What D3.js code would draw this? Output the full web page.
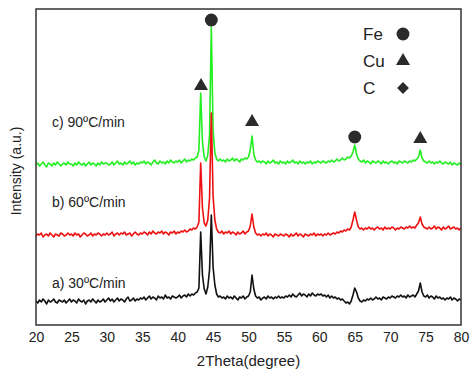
<!DOCTYPE html>
<meta charset="utf-8">
<style>
body { margin: 0; background: #fff; }
text { font-family: Arial, "Liberation Sans", sans-serif; fill: #222; }
.frame { fill: none; stroke: #333; stroke-width: 1.5; }
.trace { fill: none; stroke-width: 1.6; stroke-linejoin: round; }
</style>
<body>
<script src="https://cdn.jsdelivr.net/npm/d3@7"></script>
<script>

// 2theta grid, 20..80 in 0.25 degree steps
var theta = d3.range(0, 241).map(function(i) { return 20 + i * 0.25; });

// intensities (a.u.), one value per grid point
var rate30 = [
  24,22,25,23,26,24,21,25,23,24,26,23,22,25,24,23,25,22,24,26,
  23,25,24,22,26,24,23,25,21,24,25,23,26,24,22,25,23,24,26,23,
  25,27,24,26,23,25,27,24,26,25,23,26,28,24,25,27,24,26,25,27,
  26,28,25,27,29,26,28,27,25,29,27,28,26,30,27,28,26,29,28,27,
  28,30,27,29,30,28,31,29,31,30,32,33,37,93,50,36,31,38,55,110,
  58,40,31,28,29,27,28,26,29,27,28,26,29,27,25,28,27,29,26,28,
  29,33,50,36,29,27,28,25,27,28,26,29,27,28,26,28,27,29,27,28,
  27,29,28,30,28,31,29,28,30,32,29,31,30,28,31,29,32,30,29,31,
  30,31,29,30,28,30,27,29,27,28,26,27,25,26,24,22,23,21,24,30,
  37,33,27,24,23,25,24,26,25,27,25,26,28,26,27,25,28,27,26,28,
  27,29,28,27,29,28,30,28,29,27,30,28,29,30,28,31,34,42,33,29,
  28,30,27,29,28,26,29,27,28,26,27,25,27,26,28,25,27,26,24,26,
  25
];
var rate60 = [
  22,24,23,25,21,23,24,22,25,23,21,24,23,22,25,24,22,23,25,23,
  24,22,25,23,24,21,23,25,24,22,23,25,22,24,23,25,24,22,24,23,
  25,23,24,26,22,24,25,23,25,24,26,23,24,25,22,24,26,24,23,25,
  24,26,25,23,26,24,27,25,24,26,25,27,24,26,25,23,26,25,27,24,
  26,25,27,26,28,26,27,29,28,30,29,31,36,95,50,35,32,38,60,145,
  62,38,29,26,25,27,24,26,25,27,24,26,25,23,26,24,25,27,24,26,
  27,32,44,31,25,23,24,22,24,23,25,22,24,23,21,24,23,22,24,23,
  22,24,23,21,24,22,23,25,22,24,23,21,24,23,22,24,23,25,22,24,
  23,24,22,24,23,25,23,24,25,24,26,25,27,26,28,27,29,28,31,38,
  46,38,31,29,30,28,30,29,31,29,30,28,30,31,29,30,28,31,29,30,
  29,31,30,28,30,29,31,30,29,31,30,32,30,31,30,33,35,41,34,31,
  30,29,31,29,30,32,29,31,30,28,31,29,30,32,29,30,31,29,30,28,
  30
];
var rate90 = [
  25,27,24,26,28,25,23,27,26,24,27,25,28,26,24,26,27,25,28,26,
  26,24,27,25,28,26,25,27,24,26,28,25,27,26,24,27,25,28,26,27,
  27,25,26,28,25,27,29,26,27,25,28,26,27,29,26,28,25,27,26,28,
  27,29,26,28,27,25,28,30,27,26,29,27,28,26,29,27,30,28,27,29,
  28,30,27,29,31,28,30,29,31,30,32,33,40,97,48,33,29,35,55,163,
  60,37,31,29,31,29,30,28,31,29,30,32,29,31,30,28,31,30,32,31,
  33,40,54,36,30,28,29,27,29,28,26,29,27,28,30,27,28,26,29,27,
  28,26,29,27,28,30,27,28,26,29,27,28,26,28,27,29,26,28,27,29,
  28,27,29,28,27,29,28,30,28,29,31,29,30,32,30,31,33,32,34,38,
  45,36,31,29,28,30,27,29,28,26,29,28,27,29,28,26,29,27,28,26,
  28,29,27,28,26,29,28,27,29,28,27,29,28,30,29,31,33,40,32,29,
  28,27,29,27,28,26,28,27,29,27,26,28,27,26,28,25,27,26,25,27,
  25
];

var seriesNames = ["a) 30\u00baC/min", "b) 60\u00baC/min", "c) 90\u00baC/min"];
var seriesColors = ["#111111", "#ee1111", "#22ee22"];
var offsets = [0, 67, 135];

// phase markers above the peaks of the top trace
var markTheta = [43.3, 44.75, 50.5, 65.0, 74.25];
var markPhase = ["Cu", "Fe", "Cu", "Fe", "Cu"];
var markLevel = [239, 305, 203, 188, 186];

var legendPhases = ["Fe", "Cu", "C"];

var xTicks = d3.range(20, 81, 5);

var W = 473, H = 374;
var margin = {top: 9, right: 12, bottom: 49, left: 36},
    width = W - margin.left - margin.right,
    height = H - margin.top - margin.bottom;

var x = d3.scaleLinear().domain([20, 80]).range([0, width]);
var y = d3.scaleLinear().domain([0, 316]).range([height, 0]);

var svg = d3.select("body").append("svg")
    .attr("width", W)
    .attr("height", H)
  .append("g")
    .attr("transform", "translate(" + margin.left + "," + margin.top + ")");

var data = [rate30, rate60, rate90];

// draw top trace first so the lower ones sit on top of it
[2, 1, 0].forEach(function(k) {
  var line = d3.line()
      .x(function(d, i) { return x(theta[i]); })
      .y(function(d) { return y(d + offsets[k]); });
  svg.append("path")
      .datum(data[k])
      .attr("class", "trace")
      .attr("stroke", seriesColors[k])
      .attr("d", line);
});

// series labels
var labelY = [279, 198, 118];
svg.selectAll(".lab")
    .data(seriesNames)
  .enter().append("text")
    .attr("class", "lab")
    .attr("x", 16)
    .attr("y", function(d, i) { return labelY[i]; })
    .style("font-size", "14px")
    .text(function(d) { return d; });

// C is drawn as a square turned 45 degrees
var symFor = {Fe: d3.symbolCircle, Cu: d3.symbolTriangle, C: d3.symbolSquare};
var sizeFor = {Fe: 130, Cu: 85, C: 70};
var rotFor = {Fe: 0, Cu: 0, C: 45};

function symPath(p) {
  return d3.symbol().type(symFor[p]).size(sizeFor[p])();
}

svg.selectAll(".mark")
    .data(markTheta)
  .enter().append("path")
    .attr("class", "mark")
    .attr("fill", "#2b2b2b")
    .attr("d", function(d, i) { return symPath(markPhase[i]); })
    .attr("transform", function(d, i) {
      return "translate(" + x(d) + "," + y(markLevel[i]) + ") rotate(" + rotFor[markPhase[i]] + ")"; });

// legend
var leg = svg.append("g").attr("transform", "translate(327,0)");
legendPhases.forEach(function(p, i) {
  leg.append("text")
      .attr("x", 0)
      .attr("y", 31 + i * 27)
      .style("font-size", "17px")
      .text(p);
  leg.append("path")
      .attr("fill", "#2b2b2b")
      .attr("d", symPath(p))
      .attr("transform", "translate(40," + (25 + i * 27) + ") rotate(" + rotFor[p] + ")");
});

// frame
svg.append("rect")
    .attr("class", "frame")
    .attr("width", width)
    .attr("height", height);

var xAxis = svg.append("g")
    .attr("transform", "translate(0," + height + ")")
    .call(d3.axisBottom(x).tickValues(xTicks).tickSize(0).tickPadding(7));
xAxis.select(".domain").remove();
xAxis.selectAll("text")
    .style("font-size", "14px")
    .style("font-family", "Arial, 'Liberation Sans', sans-serif")
    .attr("fill", "#222");

svg.append("text")
    .attr("x", width / 2)
    .attr("y", height + 41)
    .style("text-anchor", "middle")
    .style("font-size", "15px")
    .text("2Theta(degree)");

svg.append("text")
    .attr("transform", "rotate(-90)")
    .attr("x", -162)
    .attr("y", -15)
    .style("text-anchor", "middle")
    .style("font-size", "14px")
    .text("Intensity (a.u.)");

</script>
</body>
